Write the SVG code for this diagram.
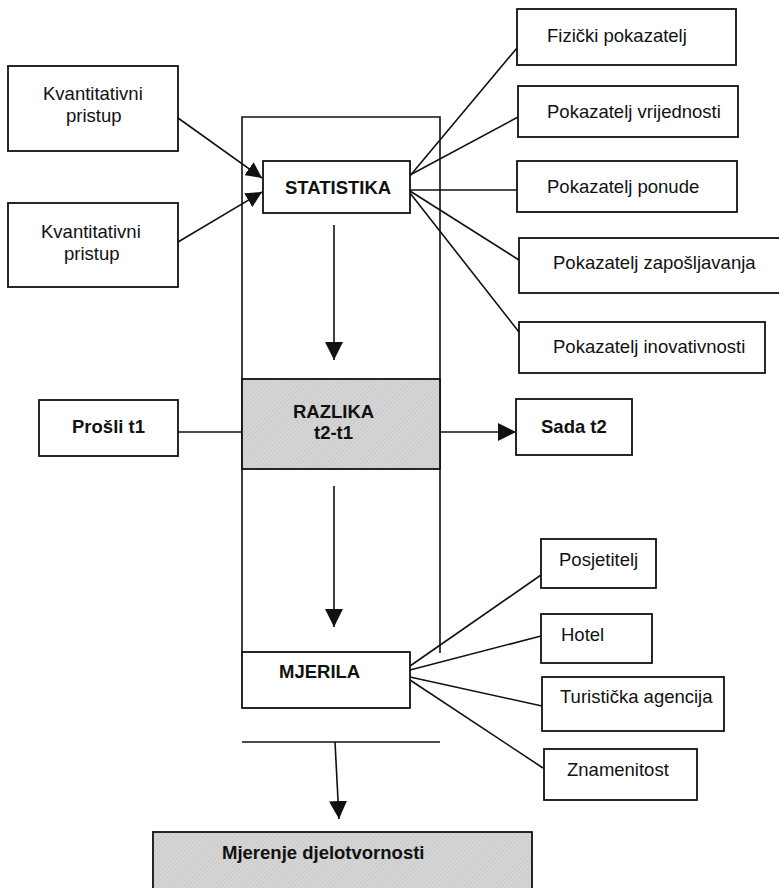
<svg xmlns="http://www.w3.org/2000/svg" width="779" height="888" viewBox="0 0 779 888">
<style>
.box{fill:#fff;stroke:#111;stroke-width:1.8}
.gray{fill:url(#hatch);stroke:#111;stroke-width:1.8}
.ln{fill:none;stroke:#111;stroke-width:1.6}
.t{font-family:"Liberation Sans",Arial,sans-serif;font-size:18.5px;fill:#111}
.b{font-weight:bold}
</style>
<defs>
<pattern id="hatch" width="3" height="3" patternUnits="userSpaceOnUse" patternTransform="rotate(45)">
<rect width="3" height="3" fill="#d6d6d6"/>
<line x1="0" y1="0" x2="0" y2="3" stroke="#bdbdbd" stroke-width="1"/>
</pattern>
<marker id="ah" viewBox="0 0 18 18" refX="18" refY="9" markerWidth="18" markerHeight="18" markerUnits="userSpaceOnUse" orient="auto">
<path d="M0,0 L18,9 L0,18 z" fill="#111"/>
</marker>
<marker id="ahs" viewBox="0 0 16 16" refX="16" refY="8" markerWidth="16" markerHeight="16" markerUnits="userSpaceOnUse" orient="auto">
<path d="M0,0 L16,8 L0,16 z" fill="#111"/>
</marker>
</defs>
<g id="connectors">
<path class="ln" d="M242,652 V117 H440 V653"/>
<line class="ln" x1="178" y1="118" x2="262" y2="178" marker-end="url(#ahs)"/>
<line class="ln" x1="178" y1="242" x2="262" y2="192" marker-end="url(#ahs)"/>
<line class="ln" x1="409" y1="177" x2="517" y2="48"/>
<line class="ln" x1="410" y1="175" x2="518" y2="117"/>
<line class="ln" x1="410" y1="190" x2="517" y2="190"/>
<line class="ln" x1="410" y1="191" x2="519" y2="260"/>
<line class="ln" x1="410" y1="193" x2="519" y2="332"/>
<line class="ln" x1="334" y1="225" x2="334" y2="360" marker-end="url(#ah)"/>
<line class="ln" x1="178" y1="432" x2="251" y2="432"/>
<line class="ln" x1="432" y1="432" x2="516" y2="432" marker-end="url(#ah)"/>
<line class="ln" x1="334" y1="486" x2="334" y2="627" marker-end="url(#ah)"/>
<line class="ln" x1="410" y1="666" x2="541" y2="575"/>
<line class="ln" x1="410" y1="670" x2="541" y2="636"/>
<line class="ln" x1="410" y1="677" x2="542" y2="706"/>
<line class="ln" x1="410" y1="680" x2="543" y2="768"/>
<line class="ln" x1="242" y1="742" x2="440" y2="742"/>
<line class="ln" x1="335" y1="742" x2="339" y2="819" marker-end="url(#ah)"/>
</g>
<g id="kvant1"><rect class="box" x="8" y="66" width="170" height="85"/><text class="t" x="43" y="100">Kvantitativni</text><text class="t" x="66" y="122">pristup</text></g>
<g id="kvant2"><rect class="box" x="8" y="203" width="170" height="84"/><text class="t" x="41" y="238">Kvantitativni</text><text class="t" x="64" y="260">pristup</text></g>
<g id="statistika"><rect class="box" x="263" y="161" width="147" height="52"/><text class="t b" x="285" y="194">STATISTIKA</text></g>
<g id="fizicki"><rect class="box" x="517" y="9" width="219" height="56"/><text class="t" x="547" y="42">Fizički pokazatelj</text></g>
<g id="vrijednosti"><rect class="box" x="518" y="86" width="220" height="51"/><text class="t" x="547" y="118">Pokazatelj vrijednosti</text></g>
<g id="ponude"><rect class="box" x="517" y="161" width="220" height="51"/><text class="t" x="547" y="193">Pokazatelj ponude</text></g>
<g id="zaposljavanja"><rect class="box" x="519" y="238" width="265" height="55"/><text class="t" x="553" y="269">Pokazatelj zapošljavanja</text></g>
<g id="inovativnosti"><rect class="box" x="519" y="322" width="246" height="51"/><text class="t" x="553" y="353">Pokazatelj inovativnosti</text></g>
<g id="razlika"><rect class="gray" x="242" y="379" width="198" height="90"/><text class="t b" x="293" y="418">RAZLIKA</text><text class="t b" x="314" y="439">t2-t1</text></g>
<g id="prosli"><rect class="box" x="39" y="400" width="139" height="56"/><text class="t b" x="72" y="433">Prošli t1</text></g>
<g id="sada"><rect class="box" x="516" y="399" width="116" height="56"/><text class="t b" x="541" y="433">Sada t2</text></g>
<g id="mjerila"><rect class="box" x="242" y="652" width="168" height="56"/><text class="t b" x="279" y="678">MJERILA</text></g>
<g id="posjetitelj"><rect class="box" x="541" y="539" width="115" height="49"/><text class="t" x="559" y="566">Posjetitelj</text></g>
<g id="hotel"><rect class="box" x="541" y="614" width="111" height="49"/><text class="t" x="561" y="641">Hotel</text></g>
<g id="agencija"><rect class="box" x="542" y="677" width="182" height="54"/><text class="t" x="560" y="703">Turistička agencija</text></g>
<g id="znamenitost"><rect class="box" x="544" y="749" width="153" height="51"/><text class="t" x="567" y="776">Znamenitost</text></g>
<g id="mjerenje"><rect class="gray" x="153" y="832" width="379" height="62"/><text class="t b" x="222" y="859">Mjerenje djelotvornosti</text></g>
</svg>
